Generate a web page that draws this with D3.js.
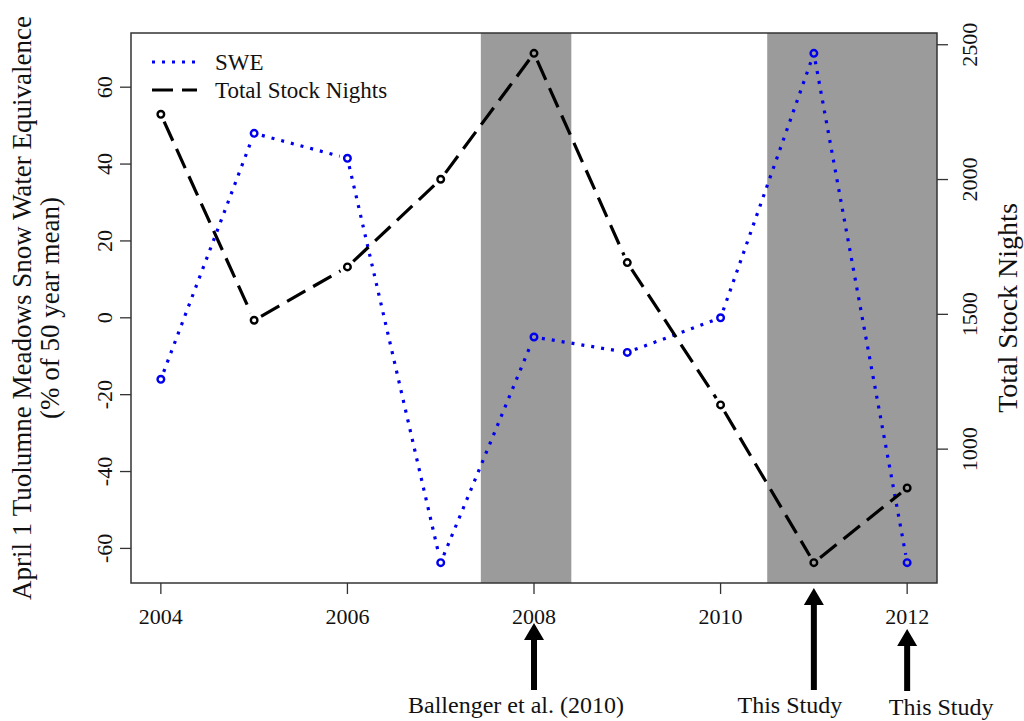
<!DOCTYPE html>
<html>
<head>
<meta charset="utf-8">
<script src="https://cdn.jsdelivr.net/npm/d3@7"></script>
<style>
  body { margin: 0; background: #fff; }
  text { font-family: "Liberation Serif", "Times New Roman", serif; fill: #111; }
</style>
</head>
<body>
<script>
// data
var years = [2004, 2005, 2006, 2007, 2008, 2009, 2010, 2011, 2012];
var swe = [-16, 48, 41.5, -63.7, -5, -9, 0, 68.8, -63.7];
var stockNights = [2242, 1478, 1676, 2001, 2468, 1692, 1164, 579, 856];

var xTicks = [2004, 2006, 2008, 2010, 2012];
var sweTicks = [-60, -40, -20, 0, 20, 40, 60];
var stockTicks = [1000, 1500, 2000, 2500];

var shadedPeriods = [[2007.43, 2008.4], [2010.5, 2012.32]];
var arrowYears = [2008, 2011, 2012];
var arrowLabels = ["Ballenger et al. (2010)", "This Study", "This Study"];

var width = 1024, height = 721;
var margin = { top: 33, right: 87, bottom: 138, left: 131 };
var x0 = margin.left, x1 = width - margin.right,
    y0 = margin.top, y1 = height - margin.bottom;

// R style 4% padding
function pad(ext) {
  var d = (ext[1] - ext[0]) * 0.04;
  return [ext[0] - d, ext[1] + d];
}

var x = d3.scaleLinear().domain(pad(d3.extent(years))).range([x0, x1]);
var yL = d3.scaleLinear().domain(pad(d3.extent(swe))).range([y1, y0]);
var yR = d3.scaleLinear().domain(pad(d3.extent(stockNights))).range([y1, y0]);

var svg = d3.select("body").append("svg")
    .attr("width", width)
    .attr("height", height);

// gray bands
svg.selectAll("rect.band")
    .data(shadedPeriods)
  .enter().append("rect")
    .attr("class", "band")
    .attr("x", function(d) { return x(d[0]); })
    .attr("width", function(d) { return Math.min(x(d[1]), x1) - x(d[0]); })
    .attr("y", y0)
    .attr("height", y1 - y0)
    .attr("fill", "#9b9b9b");

// lines drawn like R type="b": segments with gaps around the points
function drawSeries(vals, yScale, color, dash) {
  var pts = years.map(function(yr, i) { return [x(yr), yScale(vals[i])]; });
  var gap = 8;
  var segs = [];
  for (var i = 0; i < pts.length - 1; i++) {
    var a = pts[i], b = pts[i + 1];
    var dx = b[0] - a[0], dy = b[1] - a[1];
    var len = Math.sqrt(dx * dx + dy * dy);
    if (len <= 2 * gap) continue;
    var ux = dx / len, uy = dy / len;
    segs.push([a[0] + ux * gap, a[1] + uy * gap, b[0] - ux * gap, b[1] - uy * gap]);
  }
  svg.append("g").selectAll("line")
      .data(segs)
    .enter().append("line")
      .attr("x1", function(d) { return d[0]; })
      .attr("y1", function(d) { return d[1]; })
      .attr("x2", function(d) { return d[2]; })
      .attr("y2", function(d) { return d[3]; })
      .attr("stroke", color)
      .attr("stroke-width", 3.2)
      .attr("stroke-dasharray", dash);
  svg.append("g").selectAll("circle")
      .data(pts)
    .enter().append("circle")
      .attr("cx", function(d) { return d[0]; })
      .attr("cy", function(d) { return d[1]; })
      .attr("r", 3.3)
      .attr("fill", "none")
      .attr("stroke", color)
      .attr("stroke-width", 2.4);
}

drawSeries(swe, yL, "#0000ee", "3,7");
drawSeries(stockNights, yR, "#000", "21,9");

// box
svg.append("rect")
    .attr("x", x0).attr("y", y0)
    .attr("width", x1 - x0).attr("height", y1 - y0)
    .attr("fill", "none")
    .attr("stroke", "#333")
    .attr("stroke-width", 1.5);

// x axis
var gx = svg.append("g");
gx.selectAll("line").data(xTicks).enter().append("line")
    .attr("x1", x).attr("x2", x)
    .attr("y1", y1).attr("y2", y1 + 11)
    .attr("stroke", "#333").attr("stroke-width", 1.3);
gx.selectAll("text").data(xTicks).enter().append("text")
    .attr("x", x).attr("y", y1 + 41)
    .attr("text-anchor", "middle")
    .style("font-size", "22px")
    .text(function(d) { return d; });

// left axis
var gl = svg.append("g");
gl.selectAll("line").data(sweTicks).enter().append("line")
    .attr("x1", x0 - 11).attr("x2", x0)
    .attr("y1", yL).attr("y2", yL)
    .attr("stroke", "#333").attr("stroke-width", 1.3);
gl.selectAll("text").data(sweTicks).enter().append("text")
    .attr("transform", function(d) { return "translate(" + (x0 - 19) + "," + yL(d) + ") rotate(-90)"; })
    .attr("text-anchor", "middle")
    .style("font-size", "22px")
    .text(function(d) { return d; });

// right axis
var gr = svg.append("g");
gr.selectAll("line").data(stockTicks).enter().append("line")
    .attr("x1", x1).attr("x2", x1 + 11)
    .attr("y1", yR).attr("y2", yR)
    .attr("stroke", "#333").attr("stroke-width", 1.3);
gr.selectAll("text").data(stockTicks).enter().append("text")
    .attr("transform", function(d) { return "translate(" + (x1 + 40) + "," + yR(d) + ") rotate(-90)"; })
    .attr("text-anchor", "middle")
    .style("font-size", "22px")
    .text(function(d) { return d; });

// axis titles
var yc = (y0 + y1) / 2;
svg.append("text")
    .attr("transform", "translate(31," + yc + ") rotate(-90)")
    .attr("text-anchor", "middle")
    .style("font-size", "27px")
    .text("April 1 Tuolumne Meadows Snow Water Equivalence");
svg.append("text")
    .attr("transform", "translate(59," + yc + ") rotate(-90)")
    .attr("text-anchor", "middle")
    .style("font-size", "27px")
    .text("(% of 50 year mean)");
svg.append("text")
    .attr("transform", "translate(1017," + yc + ") rotate(-90)")
    .attr("text-anchor", "middle")
    .style("font-size", "28px")
    .text("Total Stock Nights");

// legend
var legend = svg.append("g");
var legendItems = [
  { label: "SWE", color: "#0000ee", dash: "3,7", y: 62 },
  { label: "Total Stock Nights", color: "#000", dash: "21,9", y: 90 }
];
legendItems.forEach(function(it) {
  legend.append("line")
      .attr("x1", 152).attr("x2", 197)
      .attr("y1", it.y).attr("y2", it.y)
      .attr("stroke", it.color)
      .attr("stroke-width", 3.2)
      .attr("stroke-dasharray", it.dash);
  legend.append("text")
      .attr("x", 215).attr("y", it.y + 8)
      .style("font-size", "23px")
      .text(it.label);
});

// arrows + labels under the axis
var arrowGeom = [
  { tip: 623, tail: 690, lx: -18, ly: 713 },
  { tip: 588, tail: 690, lx: -24, ly: 713 },
  { tip: 629, tail: 691, lx: 34, ly: 715 }
];
arrowYears.forEach(function(yr, i) {
  var g = arrowGeom[i], cx = x(yr);
  var hw = 10, hl = 17, sw = 3;
  var p = d3.path();
  p.moveTo(cx, g.tip);
  p.lineTo(cx + hw, g.tip + hl);
  p.lineTo(cx + sw, g.tip + hl);
  p.lineTo(cx + sw, g.tail);
  p.lineTo(cx - sw, g.tail);
  p.lineTo(cx - sw, g.tip + hl);
  p.lineTo(cx - hw, g.tip + hl);
  p.closePath();
  svg.append("path").attr("d", p.toString()).attr("fill", "#000");
  svg.append("text")
      .attr("x", cx + g.lx).attr("y", g.ly)
      .attr("text-anchor", "middle")
      .style("font-size", "24px")
      .text(arrowLabels[i]);
});
</script>
</body>
</html>
